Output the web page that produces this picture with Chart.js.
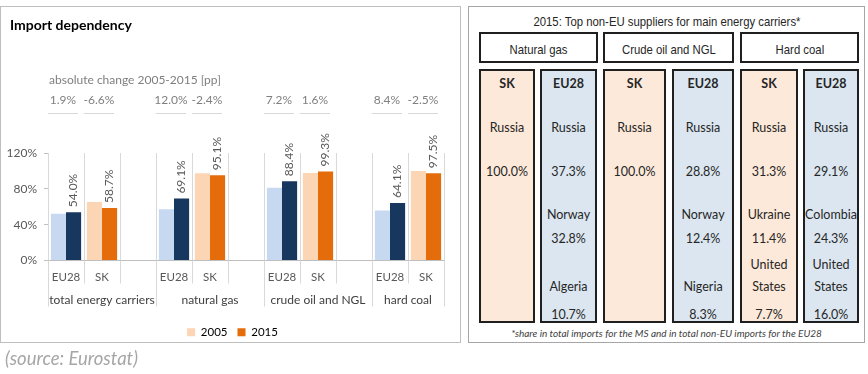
<!DOCTYPE html>
<html>
<head>
<meta charset="utf-8">
<script src="https://cdn.jsdelivr.net/npm/chart.js@4.4.6/dist/chart.umd.min.js"></script>
<style>
  body { margin: 0; width: 868px; height: 374px; position: relative; overflow: hidden; background: #fff; font-family: Lato, sans-serif; }
  #left { position: absolute; left: 0; top: 6px; width: 459px; height: 335px; border: 1px solid #bfbfbf; }
  #left canvas { position: absolute; left: 0; top: 0; }
  #right { position: absolute; left: 468px; top: 6px; width: 395px; height: 335px; border: 1px solid #a6a6a6; }
  .abs { position: absolute; }
  .narrow { font-family: 'Liberation Sans Narrow', 'Liberation Sans', sans-serif; color: #262626; font-size: 13.5px; white-space: nowrap; }
  .narrow span { display: inline-block; transform: scaleX(0.84); }
  .hbox { border: 2px solid #1f1f1f; box-sizing: border-box; text-align: center; }
  .col { border: 2px solid #1f1f1f; box-sizing: border-box; }
  .sk { background: #fde9d9; }
  .eu { background: #dce6f1; }
  .cell { position: absolute; left: -4px; right: -4px; text-align: center; font-size: 12.5px; color: #262626; line-height: 22px; }
  .source { left: 5px; top: 346px; font-style: italic; color: #a6a6a6; font-size: 18.5px; line-height: 24px; }
  .foot { left: 469px; width: 395px; top: 327px; text-align: center; font-style: italic; font-size: 10px; color: #404040; }
</style>
</head>
<body>
<div id="left"><canvas id="import-dependency" width="459" height="341"></canvas></div>
<div id="right"></div>
<div class="abs source">(source: Eurostat)</div>

<script>
const chartTitle = 'Import dependency'
const changeTitle = 'absolute change 2005-2015 [pp]'
const categories = ['EU28', 'SK', '', 'EU28', 'SK', '', 'EU28', 'SK', '', 'EU28', 'SK']
const carrierGroups = ['total energy carriers', 'natural gas', 'crude oil and NGL', 'hard coal']
const groupCenters = [1, 4, 7, 9.5]
const groupBounds = [-0.5, 2.5, 5.5, 8.5, 10.5]
const seriesNames = ['2005', '2015']
const values2005 = [52.1, 65.3, null, 57.1, 97.5, null, 81.2, 97.7, null, 55.7, 100.0]
const values2015 = [54.0, 58.7, null, 69.1, 95.1, null, 88.4, 99.3, null, 64.1, 97.5]
const changeLabels = ['1.9%', '-6.6%', '', '12.0%', '-2.4%', '', '7.2%', '1.6%', '', '8.4%', '-2.5%']
const yTicks = [0, 40, 80, 120]

const tableTitle = '2015: Top non-EU suppliers for main energy carriers*'
const tableCarriers = ['Natural gas', 'Crude oil and NGL', 'Hard coal']
const tableFootnote = '*share in total imports for the MS and in total non-EU imports for the EU28'
const skSuppliers = [
  [['Russia', '100.0%']],
  [['Russia', '100.0%']],
  [['Russia', '31.3%'], ['Ukraine', '11.4%'], ['United States', '7.7%']]
]
const euSuppliers = [
  [['Russia', '37.3%'], ['Norway', '32.8%'], ['Algeria', '10.7%']],
  [['Russia', '28.8%'], ['Norway', '12.4%'], ['Nigeria', '8.3%']],
  [['Russia', '29.1%'], ['Colombia', '24.3%'], ['United States', '16.0%']]
]

const colors = {
  eu2005: '#c6d9f1',
  eu2015: '#17375e',
  sk2005: '#fcd5b5',
  sk2015: '#e46c0a',
  grid: '#d9d9d9',
  text: '#595959'
}

const barColors = (light, dark) => categories.map((c) => (c === 'EU28' ? light : dark))
const align = (px) => Math.round(px - 0.5) + 0.5

const headerPlugin = {
  id: 'header',
  afterLayout(chart) {
    // the legend sits a little right of the canvas centre
    chart.legend.left += 8
    chart.legend.right += 8
  },
  afterDraw(chart) {
    const { ctx } = chart
    const x = chart.scales.x
    const x2 = chart.scales.x2
    const slot = x.width / categories.length
    ctx.save()
    ctx.textBaseline = 'middle'
    ctx.fillStyle = '#000'
    ctx.font = 'bold 14px Lato'
    ctx.fillText(chartTitle, 9, 18)

    ctx.fillStyle = '#7f7f7f'
    ctx.font = '12px Lato'
    ctx.fillText(changeTitle, x.left + 1, 73)

    ctx.textAlign = 'center'
    ctx.strokeStyle = colors.grid
    ctx.lineWidth = 1
    changeLabels.forEach((label, i) => {
      if (!label) return
      const cx = x.getPixelForValue(i)
      ctx.fillText(label, cx - 3, 93)
      ctx.beginPath()
      ctx.moveTo(cx - slot / 2, 106.5)
      ctx.lineTo(cx + slot / 2 - 6, 106.5)
      ctx.stroke()
    })

    // separators between the category labels and between the carrier groups
    for (let i = 0; i <= categories.length; i++) {
      const v = i - 0.5
      const px = align(x2.getPixelForValue(v))
      const bottom = groupBounds.includes(v) ? x2.top + 22 : x.top + 23
      ctx.beginPath()
      ctx.moveTo(px, x.top)
      ctx.lineTo(px, bottom)
      ctx.stroke()
    }

    // rotated value labels above the 2015 bars
    ctx.fillStyle = colors.text
    ctx.textAlign = 'left'
    chart.getDatasetMeta(1).data.forEach((bar, i) => {
      if (values2015[i] == null) return
      ctx.save()
      ctx.translate(bar.x, bar.y - 5)
      ctx.rotate(-Math.PI / 2)
      ctx.fillText(values2015[i].toFixed(1) + '%', 0, 0)
      ctx.restore()
    })
    ctx.restore()
  }
}

new Chart(document.getElementById('import-dependency'), {
  type: 'bar',
  data: {
    labels: categories,
    datasets: [
      {
        label: seriesNames[0],
        data: values2005,
        backgroundColor: barColors(colors.eu2005, colors.sk2005),
        categoryPercentage: 0.84,
        barPercentage: 1
      },
      {
        label: seriesNames[1],
        data: values2015,
        backgroundColor: barColors(colors.eu2015, colors.sk2015),
        categoryPercentage: 0.84,
        barPercentage: 1
      }
    ]
  },
  options: {
    responsive: false,
    animation: false,
    layout: { padding: { left: 4, right: 16, top: 146, bottom: 0 } },
    plugins: {
      tooltip: { enabled: false },
      legend: {
        position: 'bottom',
        labels: {
          boxWidth: 8,
          boxHeight: 8,
          padding: 10,
          color: '#000',
          font: { family: 'Lato', size: 11.5 },
          generateLabels: () => [
            { text: seriesNames[0], fillStyle: colors.sk2005, strokeStyle: colors.sk2005, lineWidth: 0, hidden: false, datasetIndex: 0 },
            { text: seriesNames[1], fillStyle: colors.sk2015, strokeStyle: colors.sk2015, lineWidth: 0, hidden: false, datasetIndex: 1 }
          ]
        }
      }
    },
    scales: {
      y: {
        min: 0,
        max: 120,
        afterBuildTicks: (axis) => { axis.ticks = yTicks.map((v) => ({ value: v })) },
        afterFit: (axis) => { axis.width = 43 },
        ticks: { color: colors.text, padding: 7, font: { family: 'Lato', size: 12 }, callback: (v) => v + '%' },
        grid: { drawOnChartArea: false, tickLength: 4, color: '#bfbfbf' },
        border: { color: colors.grid }
      },
      x: {
        afterFit: (axis) => { axis.height = 24 },
        grid: { offset: true, color: colors.grid, drawTicks: false },
        border: { color: '#bfbfbf' },
        ticks: { color: colors.text, padding: 10, autoSkip: false, maxRotation: 0, font: { family: 'Lato', size: 11.5 } }
      },
      x2: {
        type: 'linear',
        position: 'bottom',
        offset: false,
        bounds: 'data',
        min: -0.5,
        max: 10.5,
        afterFit: (axis) => { axis.height = 32 },
        afterBuildTicks: (axis) => { axis.ticks = groupCenters.map((v) => ({ value: v })) },
        grid: { display: false, offset: false },
        border: { display: false },
        ticks: {
          color: '#404040',
          padding: 0,
          autoSkip: false,
          maxRotation: 0,
          font: { family: 'Lato', size: 12 },
          callback: (v) => carrierGroups[groupCenters.indexOf(v)]
        }
      }
    }
  },
  plugins: [headerPlugin]
})

// supplier table on the right
const body = document.body
const add = (parent, cls, style, html) => {
  const el = document.createElement('div')
  el.className = cls
  Object.assign(el.style, style)
  el.innerHTML = html
  parent.appendChild(el)
  return el
}

add(body, 'abs narrow', { left: '469px', width: '395px', top: '14px', textAlign: 'center' }, '<span>' + tableTitle + '</span>')
add(body, 'abs foot', {}, tableFootnote)

const headerBoxes = [[479, 598], [603, 734], [740, 859]]
const columns = [[479, 535], [540, 597], [603, 666], [672, 734], [740, 798], [803, 859]]
const rowTops = [115, 159, 202, 226]

tableCarriers.forEach((name, g) => {
  const [l, r] = headerBoxes[g]
  add(body, 'abs narrow hbox', { left: l + 'px', width: (r - l) + 'px', top: '32px', height: '31px', paddingTop: '5px', lineHeight: '22px' }, '<span>' + name + '</span>')

  ;[['SK', skSuppliers[g], 'sk'], ['EU28', euSuppliers[g], 'eu']].forEach(([who, list, cls], k) => {
    const [cl, cr] = columns[g * 2 + k]
    const col = add(body, 'abs col ' + cls, { left: cl + 'px', width: (cr - cl) + 'px', top: '69px', height: '254px' }, '')
    const cell = (style, html) => add(col, 'cell', style, html)
    cell({ top: (71 - 69) + 'px' }, '<b>' + who + '</b>')
    list.forEach(([country, share], j) => {
      if (j < 2) {
        cell({ top: (rowTops[j * 2] - 69) + 'px' }, country)
        cell({ top: (rowTops[j * 2 + 1] - 69) + 'px' }, share)
      } else {
        cell({ bottom: (323 - 300) + 'px', left: '2px', right: '2px' }, country)
        cell({ top: (302 - 69) + 'px' }, share)
      }
    })
  })
})
</script>
</body>
</html>
